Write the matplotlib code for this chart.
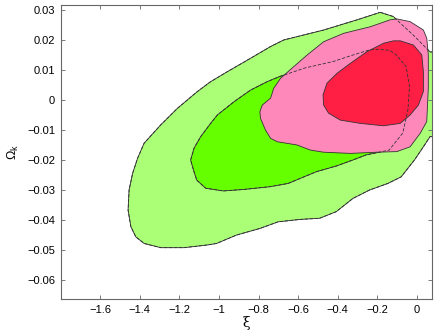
import numpy as np
import matplotlib
matplotlib.use("Agg")
import matplotlib.pyplot as plt

plt.rcParams['font.family'] = ['Liberation Sans', 'DejaVu Sans']
plt.rcParams['mathtext.fontset'] = 'custom'
plt.rcParams['mathtext.rm'] = 'Liberation Sans'
plt.rcParams['mathtext.it'] = 'Liberation Sans:italic'

# contour vertices (xi, Omega_k)
green95_xi = [-0.185, -0.119, -0.069, -0.019, 0.032, 0.067, 0.097, 0.097, 0.067, 0.033,
              -0.012, -0.079, -0.146, -0.239, -0.323, -0.407, -0.491, -0.592, -0.701,
              -0.793, -0.911, -1.012, -1.058, -1.176, -1.294, -1.378, -1.420, -1.445,
              -1.459, -1.454, -1.436, -1.411, -1.378, -1.294, -1.210, -1.109, -1.042,
              -0.958, -0.840, -0.739, -0.672, -0.605, -0.471, -0.302]
green95_ok = [0.0292, 0.0278, 0.0247, 0.0217, 0.0183, 0.0160, 0.0160, -0.0123, -0.0122, -0.0156,
              -0.0200, -0.0256, -0.0278, -0.0300, -0.0328, -0.0372, -0.0394, -0.0398, -0.0406,
              -0.0428, -0.0450, -0.0478, -0.0483, -0.0492, -0.0492, -0.0478, -0.0456, -0.0422,
              -0.0367, -0.0300, -0.0244, -0.0194, -0.0144, -0.0083, -0.0028, 0.0028, 0.0061,
              0.0094, 0.0139, 0.0178, 0.0200, 0.0211, 0.0233, 0.0267]

green68_xi = [-0.694, -0.563, -0.423, -0.336, -0.239, -0.190, -0.135, -0.104, -0.054, -0.037,
              -0.045, -0.071, -0.140, -0.256, -0.323, -0.407, -0.508, -0.650, -0.743, -0.874,
              -0.978, -1.067, -1.112, -1.126, -1.143, -1.126, -1.092, -1.042, -1.008, -0.924,
              -0.840, -0.756]
green68_ok = [0.0078, 0.0107, 0.0128, 0.0147, 0.0167, 0.0169, 0.0165, 0.0150, 0.0111, 0.0044,
              -0.0033, -0.0110, -0.0167, -0.0183, -0.0200, -0.0220, -0.0239, -0.0278, -0.0289,
              -0.0298, -0.0303, -0.0294, -0.0267, -0.0239, -0.0200, -0.0161, -0.0122, -0.0078,
              -0.0050, -0.0006, 0.0033, 0.0061]

pink95_xi = [-0.101, -0.034, 0.033, 0.050, 0.058, 0.058, 0.050, 0.017, -0.034, -0.101, -0.202,
             -0.336, -0.471, -0.538, -0.605, -0.706, -0.739, -0.765, -0.790, -0.793, -0.781,
             -0.739, -0.723, -0.689, -0.622, -0.554, -0.471, -0.370, -0.235, -0.135]
pink95_ok = [0.0270, 0.0261, 0.0233, 0.0206, 0.0150, 0.0039, -0.0072, -0.0111, -0.0156, -0.0172,
             -0.0174, -0.0178, -0.0174, -0.0167, -0.0150, -0.0139, -0.0128, -0.0100, -0.0061,
             -0.0039, -0.0017, 0.0006, 0.0039, 0.0072, 0.0111, 0.0150, 0.0194, 0.0222, 0.0244,
             0.0267]

pink68_xi = [-0.084, -0.017, 0.025, 0.033, 0.033, 0.008, -0.034, -0.084, -0.168, -0.286, -0.387,
             -0.446, -0.471, -0.474, -0.454, -0.403, -0.336, -0.252, -0.168, -0.118]
pink68_ok = [0.0197, 0.0183, 0.0150, 0.0094, 0.0028, -0.0017, -0.0050, -0.0078, -0.0086, -0.0078,
             -0.0067, -0.0044, -0.0017, 0.0017, 0.0056, 0.0089, 0.0122, 0.0161, 0.0189, 0.0197]

xticks = [-1.6, -1.4, -1.2, -1.0, -0.8, -0.6, -0.4, -0.2, 0.0]
xticklabels = ['\u22121.6', '\u22121.4', '\u22121.2', '\u22121', '\u22120.8', '\u22120.6',
               '\u22120.4', '\u22120.2', '0']
yticks = [0.03, 0.02, 0.01, 0.0, -0.01, -0.02, -0.03, -0.04, -0.05, -0.06]
yticklabels = ['0.03', '0.02', '0.01', '0', '\u22120.01', '\u22120.02', '\u22120.03',
               '\u22120.04', '\u22120.05', '\u22120.06']

fig = plt.figure(figsize=(4.36, 3.32), dpi=100)
ax = fig.add_axes([0.139, 0.0985, 0.852, 0.887])

edge = '#333333'
ax.fill(green95_xi, green95_ok, facecolor='#aaff77', edgecolor=edge, lw=0.6)
ax.fill(green68_xi, green68_ok, facecolor='#66ff00', edgecolor=edge, lw=0.6)
ax.fill(pink95_xi, pink95_ok, facecolor='#ff88bb', edgecolor=edge, lw=0.6)
ax.fill(pink68_xi, pink68_ok, facecolor='#ff1f44', edgecolor=edge, lw=0.6)

# green contours dashed on top of the pink ones
for xs, ys in [(green95_xi, green95_ok), (green68_xi, green68_ok)]:
    ax.plot(xs + xs[:1], ys + ys[:1], color=edge, lw=0.6, ls=(0, (4, 2)))

ax.set_xlim(-1.8, 0.077)
ax.set_ylim(-0.0664, 0.0317)
ax.set_xticks(xticks)
ax.set_xticklabels(xticklabels)
ax.set_yticks(yticks)
ax.set_yticklabels(yticklabels)
ax.tick_params(direction='in', top=True, right=True, length=3, width=0.6,
               color='#666666', labelsize=8, pad=4)
for s in ax.spines.values():
    s.set_color('#666666')
    s.set_linewidth(0.8)

ax.set_xlabel('\u03be', family=['DejaVu Serif'], fontsize=10, labelpad=1)
ax.set_ylabel(r'$\mathrm{\Omega_k}$', fontsize=9, labelpad=4)

fig.savefig('out.png', dpi=100)
